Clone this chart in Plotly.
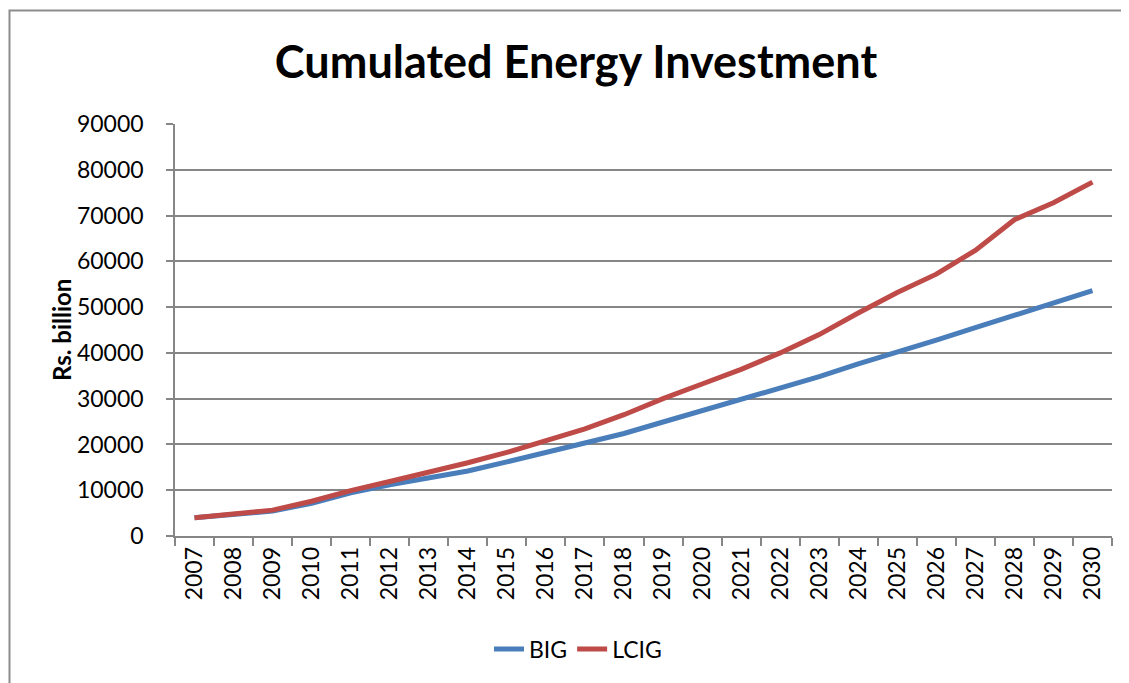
import plotly.graph_objects as go

# Years on the category axis
years = [str(y) for y in range(2007, 2031)]

# Cumulated investment, Rs. billion
big = [4000, 4700, 5450, 7150, 9450, 11200, 12600, 14200, 16200, 18300,
       20200, 22400, 24900, 27400, 29700, 32200, 34800, 37600, 40100, 42800,
       45500, 48200, 50900, 53600]
lcig = [4000, 4750, 5650, 7600, 9900, 11900, 13900, 16000, 18250, 20700,
        23400, 26500, 30000, 33200, 36400, 40000, 44000, 48700, 53200, 57200,
        62400, 69100, 72800, 77300]

font = "Lato"
grid = "#868686"

# the page body adds an 8px margin, so work in screen pixels and shift
OFF = 8
W, H = 1129 - OFF, 683 - OFF
# plot area on screen: x 175..1112, y 124..536
L, T = 175 - OFF, 124 - OFF
R, B = W - (1112 - OFF), H - (536 - OFF)
pw, ph = W - L - R, H - T - B


def px_x(x):
    return (x - OFF - L) / pw


def px_y(y):
    return (H - B - (y - OFF)) / ph


fig = go.Figure()
fig.add_trace(go.Scatter(x=years, y=big, name="BIG", mode="lines",
                         line=dict(color="#4a7ebb", width=5)))
fig.add_trace(go.Scatter(x=years, y=lcig, name="LCIG", mode="lines",
                         line=dict(color="#be4b48", width=5)))

fig.update_layout(
    width=W, height=H,
    margin=dict(l=L, r=R, t=T, b=B),
    paper_bgcolor="white", plot_bgcolor="white",
    font=dict(family=font, size=23, color="black"),
    title=dict(text="<b>Cumulated Energy Investment</b>",
               font=dict(family=font, size=45, color="black"),
               x=(576 - OFF) / W, xanchor="center",
               y=1 - (62 - OFF) / H, yanchor="middle"),
    legend=dict(orientation="h", x=px_x(578), xanchor="center",
                y=px_y(649), yanchor="middle", font=dict(size=23)),
    showlegend=True,
)

fig.update_xaxes(
    type="category", range=[-0.5, len(years) - 0.5],
    tickangle=-90, tickson="boundaries",
    ticks="outside", ticklen=8, tickcolor=grid, tickwidth=1.5,
    showline=True, linecolor=grid, linewidth=1.5, showgrid=False,
    tickfont=dict(size=23), automargin=False,
)
fig.update_yaxes(
    range=[0, 90000], dtick=10000, tickformat="d",
    ticks="outside", ticklen=7, tickcolor=grid, tickwidth=1.5,
    ticklabelstandoff=18,
    showline=True, linecolor=grid, linewidth=1.5,
    showgrid=True, gridcolor=grid, gridwidth=1.5, zeroline=False,
    tickfont=dict(size=23), automargin=False,
)

# y axis title
fig.add_annotation(text="<b>Rs. billion</b>", textangle=-90,
                   xref="paper", yref="paper", x=px_x(61), y=0.5,
                   xanchor="center", yanchor="middle",
                   showarrow=False, font=dict(size=24))

# outer chart border (runs past the right and bottom edges)
fig.add_shape(type="rect", xref="paper", yref="paper",
              x0=px_x(9.5), y0=px_y(720), x1=px_x(1160), y1=px_y(10.5),
              line=dict(color="#8c8c8c", width=2), layer="below")

fig.write_html("out.html")
